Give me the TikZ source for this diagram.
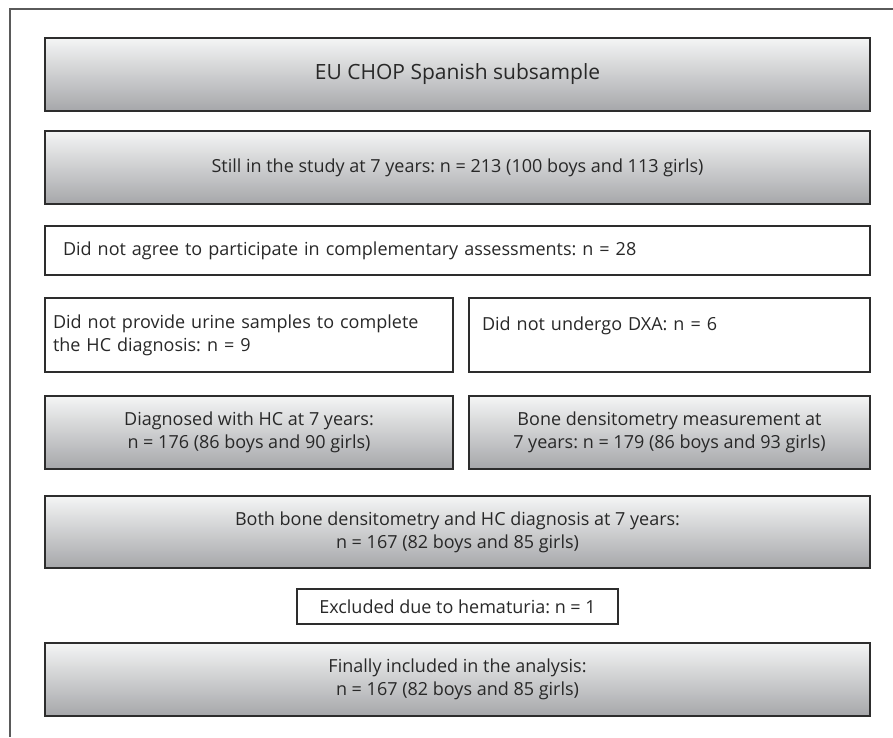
\documentclass[tikz,border=0pt]{standalone}
\usepackage{fontspec}
\setmainfont{Open Sans}
\frenchspacing
\definecolor{boxtop}{RGB}{244,245,245}
\definecolor{boxbot}{RGB}{166,167,170}
\definecolor{edge}{RGB}{45,45,45}
\definecolor{ink}{RGB}{40,40,40}
\definecolor{frame}{RGB}{90,90,90}
\begin{document}
\begin{tikzpicture}[x=1pt,y=-1pt,
    txt/.style={font=\fontsize{18}{23}\selectfont, text=ink},
    graybox/.style={txt, draw=edge, line width=1.1pt, rectangle, top color=boxtop, bottom color=boxbot, align=center, inner sep=0pt},
    whitebox/.style={txt, draw=edge, line width=1.1pt, rectangle, fill=white, inner sep=0pt}]
        \useasboundingbox (0,0) rectangle (893,737);
        % Frame
        \draw[frame, line width=1.2pt] (893,9) -- (10,9) -- (10,737);

        % Main stream
        \node[graybox, minimum width=825, minimum height=73, font=\fontsize{21}{24}\selectfont] (sample) at (457.5,74.5) {EU CHOP Spanish subsample};
        \node[graybox, minimum width=825, minimum height=73] (still) at (457.5,167.5) {Still in the study at 7 years: n = 213 (100 boys and 113 girls)};
        \node[whitebox, minimum width=825, minimum height=49, text width=789, align=left] (agree) at (457.5,250.5) {Did not agree to participate in complementary assessments: n = 28};

        % Two branches
        \node[whitebox, minimum width=408, minimum height=74, text width=392, align=left] (urine) at (249,335) {Did not provide urine samples to complete\\the HC diagnosis: n = 9};
        \node[whitebox, minimum width=401, minimum height=74, text width=375, align=left] (dxa) at (669.5,335) {Did not undergo DXA: n = 6\\\mbox{}};
        \node[graybox, minimum width=408, minimum height=73] (hc) at (249,432.5) {Diagnosed with HC at 7 years:\\n = 176 (86 boys and 90 girls)};
        \node[graybox, minimum width=401, minimum height=73] (bone) at (669.5,432.5) {Bone densitometry measurement at\\7 years: n = 179 (86 boys and 93 girls)};

        % Merge
        \node[graybox, minimum width=825, minimum height=72] (both) at (457.5,532) {Both bone densitometry and HC diagnosis at 7 years:\\n = 167 (82 boys and 85 girls)};
        \node[whitebox, minimum width=321, minimum height=35, align=center] (hema) at (457.5,606.5) {Excluded due to hematuria: n = 1};
        \node[graybox, minimum width=825, minimum height=73] (final) at (457.5,679.5) {Finally included in the analysis:\\n = 167 (82 boys and 85 girls)};
\end{tikzpicture}
\end{document}
